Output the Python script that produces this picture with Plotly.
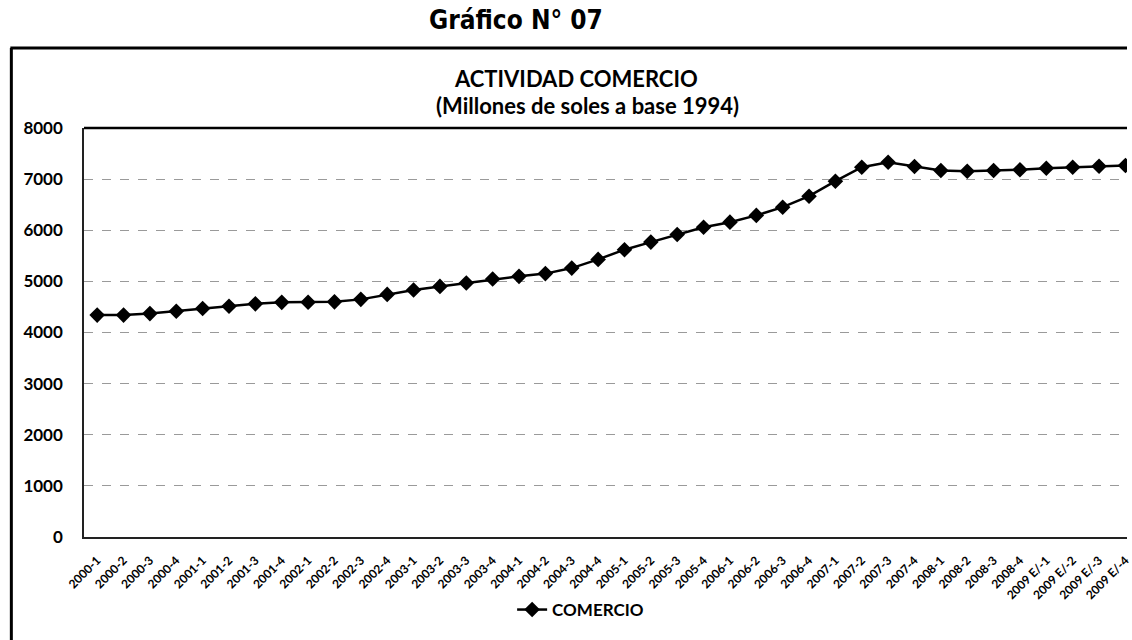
import plotly.graph_objects as go

periods = [
    "2000-1", "2000-2", "2000-3", "2000-4",
    "2001-1", "2001-2", "2001-3", "2001-4",
    "2002-1", "2002-2", "2002-3", "2002-4",
    "2003-1", "2003-2", "2003-3", "2003-4",
    "2004-1", "2004-2", "2004-3", "2004-4",
    "2005-1", "2005-2", "2005-3", "2005-4",
    "2006-1", "2006-2", "2006-3", "2006-4",
    "2007-1", "2007-2", "2007-3", "2007-4",
    "2008-1", "2008-2", "2008-3", "2008-4",
    "2009 E/-1", "2009 E/-2", "2009 E/-3", "2009 E/-4",
]
comercio = [
    4340, 4340, 4370, 4415, 4470, 4512, 4560, 4590, 4592, 4600,
    4648, 4745, 4830, 4902, 4968, 5045, 5098, 5152, 5260, 5430,
    5620, 5768, 5918, 6060, 6158, 6290, 6451, 6666, 6959, 7232,
    7330, 7246, 7168, 7154, 7168, 7182, 7213, 7232, 7252, 7266,
]
y_ticks = [0, 1000, 2000, 3000, 4000, 5000, 6000, 7000, 8000]

W, H = 1132, 640
L, R, T, B = 84, 0, 128, 103
pw = W - L - R
ph = H - T - B

def px_x(p):
    return (p - L) / pw

def px_y(p):
    return (H - B - p) / ph

BF = "Lato"

fig = go.Figure()
fig.add_trace(go.Scatter(
    x=periods, y=comercio, mode="lines+markers", name="COMERCIO",
    line=dict(color="black", width=2.5),
    marker=dict(symbol="diamond", size=12, color="black"),
))

fig.update_layout(
    width=W, height=H,
    margin=dict(l=L, r=R, t=T, b=B, pad=0),
    paper_bgcolor="white", plot_bgcolor="white",
    font=dict(family=BF, color="black"),
    showlegend=True,
    legend=dict(
        orientation="h", x=px_x(583), y=px_y(610),
        xanchor="center", yanchor="middle",
        font=dict(family=BF, size=17, weight="bold", color="black"),
        bgcolor="rgba(0,0,0,0)",
    ),
    xaxis=dict(
        type="category", range=[-0.5, 39.06],
        tickangle=-45, showgrid=False,
        tickfont=dict(family=BF, size=12, weight="bold", color="black"),
        showline=True, linecolor="#222", linewidth=1.5,
        ticks="", ticklen=0, ticklabelstandoff=10,
    ),
    yaxis=dict(
        range=[0, 8000], tickvals=y_ticks,
        tickfont=dict(family=BF, size=17, weight="bold", color="black"),
        showgrid=True, gridcolor="#9a9a9a", gridwidth=1, griddash="dash",
        showline=True, linecolor="#222", linewidth=1.5,
        ticks="", ticklabelstandoff=16, zeroline=False,
    ),
    annotations=[
        dict(text="Gráfico N° 07", x=px_x(518), y=px_y(20), xref="paper", yref="paper",
             showarrow=False, xanchor="center", yanchor="middle",
             font=dict(family="DejaVu Sans Condensed, Liberation Sans, sans-serif", size=26,
                       weight="bold", color="black")),
        dict(text="ACTIVIDAD COMERCIO", x=px_x(578), y=px_y(78), xref="paper", yref="paper",
             showarrow=False, xanchor="center", yanchor="middle",
             font=dict(family=BF, size=22, weight="bold", color="black")),
        dict(text="(Millones de soles a base 1994)", x=px_x(590), y=px_y(105), xref="paper", yref="paper",
             showarrow=False, xanchor="center", yanchor="middle",
             font=dict(family=BF, size=22, weight="bold", color="black")),
    ],
    shapes=[
        # outer frame top
        dict(type="line", xref="paper", yref="paper", x0=px_x(10), x1=px_x(1132),
             y0=px_y(48), y1=px_y(48), line=dict(color="black", width=3)),
        # outer frame left
        dict(type="line", xref="paper", yref="paper", x0=px_x(11), x1=px_x(11),
             y0=px_y(48), y1=px_y(640), line=dict(color="black", width=3)),
        # heavy plot top border
        dict(type="line", xref="paper", yref="paper", x0=0, x1=1,
             y0=1, y1=1, line=dict(color="black", width=2.5)),
    ],
)

fig.write_html("out.html", config={"displayModeBar": False},
               post_script="document.body.style.margin='0';")
